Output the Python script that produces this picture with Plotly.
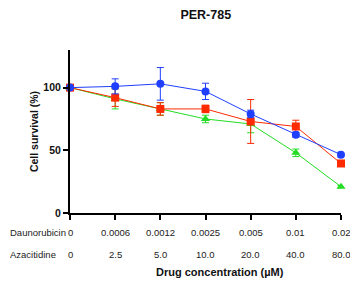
import plotly.graph_objects as go

title = "PER-785"
positions = [0, 1, 2, 3, 4, 5, 6]
dauno_labels = ["0", "0.0006", "0.0012", "0.0025", "0.005", "0.01", "0.02"]
aza_labels = ["0", "2.5", "5.0", "10.0", "20.0", "40.0", "80.0"]

green_vals = [100, 91, 83, 75, 71, 48, 21]
green_err = [0, 8, 5, 3, 7, 3, 1]
red_vals = [100, 92, 83, 83, 73, 69, 39.5]
red_err = [0, 7, 5, 3, 17.5, 5, 1.5]
blue_vals = [100, 101, 103, 97, 79, 62.5, 46.5]
blue_err = [0, 6, 13, 6.5, 3, 2, 2]

FONT = "Liberation Sans, Arial, sans-serif"
fig = go.Figure()

def add(vals, err, color, symbol, size):
    fig.add_trace(go.Scatter(
        x=positions, y=vals, mode="lines+markers",
        line=dict(color=color, width=1),
        marker=dict(color=color, symbol=symbol, size=size),
        error_y=dict(type="data", array=err, color=color, thickness=1, width=3.5),
        cliponaxis=False, showlegend=False))

add(green_vals, green_err, "#22dd22", "triangle-up", 8)
add(red_vals, red_err, "#ff2a00", "square", 8)
add(blue_vals, blue_err, "#1f3fff", "circle", 8)

lab_font = dict(size=9.5, family=FONT, color="#222")
annotations = []
for p, d, a in zip(positions, dauno_labels, aza_labels):
    annotations.append(dict(x=p, y=-0.117, xref="x", yref="paper", text=d, showarrow=False,
                            yanchor="middle", font=lab_font))
    annotations.append(dict(x=p, y=-0.252, xref="x", yref="paper", text=a, showarrow=False,
                            yanchor="middle", font=lab_font))
annotations.append(dict(x=-0.229, y=-0.117, xref="paper", yref="paper", text="Daunorubicin",
                        xanchor="left", yanchor="middle", showarrow=False, font=lab_font))
annotations.append(dict(x=-0.229, y=-0.252, xref="paper", yref="paper", text="Azacitidine",
                        xanchor="left", yanchor="middle", showarrow=False, font=lab_font))
annotations.append(dict(x=0.555, y=-0.362, xref="paper", yref="paper", text="Drug concentration (µM)",
                        yanchor="middle", showarrow=False,
                        font=dict(size=11, family=FONT, color="#111", weight="bold")))

fig.update_layout(
    width=350, height=279,
    margin=dict(l=62, r=17, t=42, b=74),
    plot_bgcolor="white", paper_bgcolor="white",
    title=dict(text="<b>" + title + "</b>", x=0.565, xanchor="center", y=0.975, yanchor="middle",
               font=dict(size=12.5, family=FONT, color="#111")),
    xaxis=dict(range=[0, 6], tickvals=positions, ticktext=[""] * 7, ticks="outside", ticklen=5,
               tickwidth=2, tickcolor="black", showline=True, linecolor="black", linewidth=2,
               showgrid=False, zeroline=False, automargin=False),
    yaxis=dict(range=[0, 130], tickvals=[0, 50, 100], ticks="outside", ticklen=5, tickwidth=2,
               tickcolor="black", showline=True, linecolor="black", linewidth=2, showgrid=False,
               zeroline=False, automargin=False,
               tickfont=dict(size=10.5, family=FONT, color="#111", weight="bold"),
               title=dict(text="<b>Cell survival (%)</b>", standoff=3,
                          font=dict(size=10.5, family=FONT, color="#111"))),
    annotations=annotations,
)
fig.write_html("out.html")
